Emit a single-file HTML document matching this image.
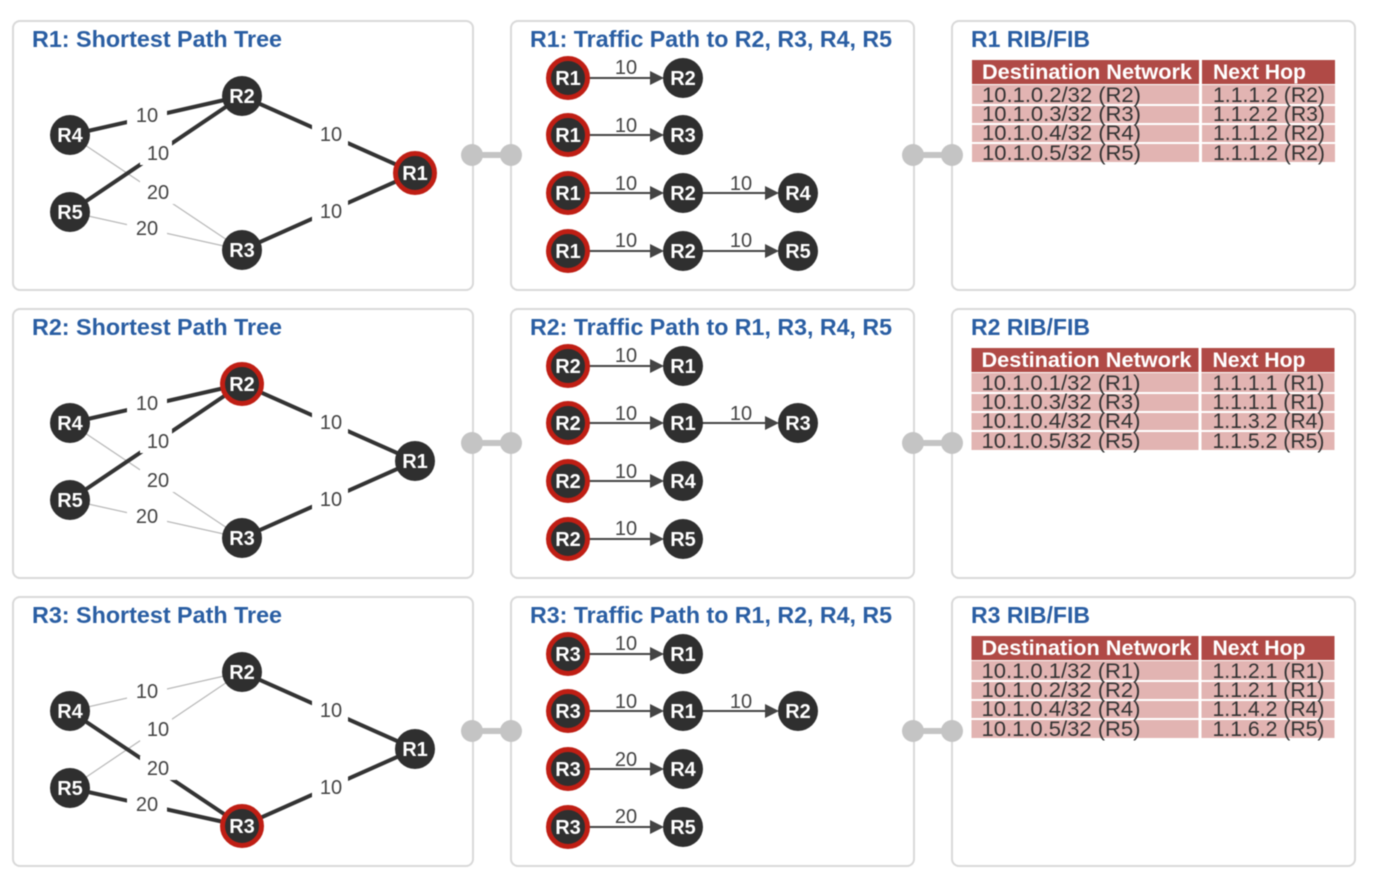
<!DOCTYPE html>
<html><head><meta charset="utf-8"><style>
html,body{margin:0;padding:0;background:#fff;width:1390px;height:888px;overflow:hidden}
svg{display:block;filter:blur(0.6px)}
text{font-family:"Liberation Sans",sans-serif;lengthAdjust:spacingAndGlyphs}
.p{fill:#fff;stroke:#d9d9d9;stroke-width:2}
.t{font-size:23px;font-weight:bold;fill:#2a5ea3}
.n{fill:#2f2f2f}
.s{fill:#2f2f2f;stroke:#bf1e14;stroke-width:5}
.nt{font-size:20px;font-weight:bold;fill:#fff;text-anchor:middle}
.l{font-size:20px;fill:#444;text-anchor:middle}
.a{stroke:#333;stroke-width:4;fill:none}
.b{stroke:#b8b8b8;stroke-width:1.2;fill:none}
.g{stroke:#444;stroke-width:2;fill:none}
.h{fill:#444}
.w{fill:#fff}
.c{fill:#c4c4c4}
.tr{fill:#b04a46}
.tb{fill:#e2b4b2}
.th{font-size:21px;font-weight:bold;fill:#fff}
.td{font-size:21px;fill:#333}
</style></head><body>
<svg width="1390" height="888" viewBox="0 0 1390 888" xmlns="http://www.w3.org/2000/svg">

<!-- ROW 1 -->
<g>
<rect class="p" x="13" y="21" width="460" height="269" rx="7"/>
<rect class="p" x="511" y="21" width="403" height="269" rx="7"/>
<rect class="p" x="952" y="21" width="403" height="269" rx="7"/>
<rect class="c" x="472" y="152" width="39" height="6"/><circle class="c" cx="472" cy="155" r="11"/><circle class="c" cx="511" cy="155" r="11"/>
<rect class="c" x="913" y="152" width="39" height="6"/><circle class="c" cx="913" cy="155" r="11"/><circle class="c" cx="952" cy="155" r="11"/>
<text class="t" x="32" y="47" textLength="250" lengthAdjust="spacingAndGlyphs">R1: Shortest Path Tree</text>
<text class="t" x="530" y="47" textLength="362" lengthAdjust="spacingAndGlyphs">R1: Traffic Path to R2, R3, R4, R5</text>
<text class="t" x="971" y="47" textLength="119" lengthAdjust="spacingAndGlyphs">R1 RIB/FIB</text>

<line class="b" x1="70" y1="135" x2="242" y2="250"/><line class="b" x1="70" y1="212" x2="242" y2="250"/>
<line class="a" x1="70" y1="135" x2="242" y2="96"/><line class="a" x1="70" y1="212" x2="242" y2="96"/>
<line class="a" x1="242" y1="96" x2="415" y2="173"/><line class="a" x1="242" y1="250" x2="415" y2="173"/>
<rect class="w" x="127" y="103" width="40" height="24"/><rect class="w" x="140" y="141" width="32" height="24"/><rect class="w" x="140" y="180" width="36" height="24"/><rect class="w" x="127" y="216" width="40" height="24"/><rect class="w" x="312" y="122" width="36" height="24"/><rect class="w" x="312" y="199" width="36" height="24"/>
<text class="l" x="147" y="122">10</text><text class="l" x="158" y="160">10</text><text class="l" x="158" y="199">20</text><text class="l" x="147" y="235">20</text><text class="l" x="331" y="141">10</text><text class="l" x="331" y="218">10</text>
<circle class="n" cx="70" cy="135" r="20"/><text class="nt" x="70" y="142">R4</text>
<circle class="n" cx="70" cy="212" r="20"/><text class="nt" x="70" y="219">R5</text>
<circle class="n" cx="242" cy="96" r="20"/><text class="nt" x="242" y="103">R2</text>
<circle class="n" cx="242" cy="250" r="20"/><text class="nt" x="242" y="257">R3</text>
<circle class="s" cx="415" cy="173" r="19.5"/><text class="nt" x="415" y="180">R1</text>

<line class="g" x1="568" y1="78" x2="652" y2="78"/><polygon class="h" points="650,71 664,78 650,85"/><text class="l" x="626" y="74">10</text>
<line class="g" x1="568" y1="135" x2="652" y2="135"/><polygon class="h" points="650,128 664,135 650,142"/><text class="l" x="626" y="132">10</text>
<line class="g" x1="568" y1="193" x2="652" y2="193"/><polygon class="h" points="650,186 664,193 650,200"/><text class="l" x="626" y="190">10</text>
<line class="g" x1="683" y1="193" x2="767" y2="193"/><polygon class="h" points="765,186 779,193 765,200"/><text class="l" x="741" y="190">10</text>
<line class="g" x1="568" y1="251" x2="652" y2="251"/><polygon class="h" points="650,244 664,251 650,258"/><text class="l" x="626" y="247">10</text>
<line class="g" x1="683" y1="251" x2="767" y2="251"/><polygon class="h" points="765,244 779,251 765,258"/><text class="l" x="741" y="247">10</text>
<circle class="s" cx="568" cy="78" r="19.5"/><text class="nt" x="568" y="85">R1</text><circle class="n" cx="683" cy="78" r="20"/><text class="nt" x="683" y="85">R2</text>
<circle class="s" cx="568" cy="135" r="19.5"/><text class="nt" x="568" y="142">R1</text><circle class="n" cx="683" cy="135" r="20"/><text class="nt" x="683" y="142">R3</text>
<circle class="s" cx="568" cy="193" r="19.5"/><text class="nt" x="568" y="200">R1</text><circle class="n" cx="683" cy="193" r="20"/><text class="nt" x="683" y="200">R2</text><circle class="n" cx="798" cy="193" r="20"/><text class="nt" x="798" y="200">R4</text>
<circle class="s" cx="568" cy="251" r="19.5"/><text class="nt" x="568" y="258">R1</text><circle class="n" cx="683" cy="251" r="20"/><text class="nt" x="683" y="258">R2</text><circle class="n" cx="798" cy="251" r="20"/><text class="nt" x="798" y="258">R5</text>

<rect class="tr" x="972" y="60" width="227" height="24"/><rect class="tr" x="1202" y="60" width="133" height="24"/>
<rect class="tb" x="972" y="85" width="227" height="19"/><rect class="tb" x="1202" y="85" width="133" height="19"/>
<rect class="tb" x="972" y="106" width="227" height="17"/><rect class="tb" x="1202" y="106" width="133" height="17"/>
<rect class="tb" x="972" y="125" width="227" height="17"/><rect class="tb" x="1202" y="125" width="133" height="17"/>
<rect class="tb" x="972" y="144" width="227" height="18"/><rect class="tb" x="1202" y="144" width="133" height="18"/>
<text class="th" x="982" y="79" textLength="210" lengthAdjust="spacingAndGlyphs">Destination Network</text><text class="th" x="1213" y="79" textLength="93" lengthAdjust="spacingAndGlyphs">Next Hop</text>
<text class="td" x="982" y="102" textLength="159" lengthAdjust="spacingAndGlyphs">10.1.0.2/32 (R2)</text><text class="td" x="1213" y="102" textLength="112" lengthAdjust="spacingAndGlyphs">1.1.1.2 (R2)</text>
<text class="td" x="982" y="121" textLength="159" lengthAdjust="spacingAndGlyphs">10.1.0.3/32 (R3)</text><text class="td" x="1213" y="121" textLength="112" lengthAdjust="spacingAndGlyphs">1.1.2.2 (R3)</text>
<text class="td" x="982" y="140" textLength="159" lengthAdjust="spacingAndGlyphs">10.1.0.4/32 (R4)</text><text class="td" x="1213" y="140" textLength="112" lengthAdjust="spacingAndGlyphs">1.1.1.2 (R2)</text>
<text class="td" x="982" y="160" textLength="159" lengthAdjust="spacingAndGlyphs">10.1.0.5/32 (R5)</text><text class="td" x="1213" y="160" textLength="112" lengthAdjust="spacingAndGlyphs">1.1.1.2 (R2)</text>
</g>

<!-- ROW 2 -->
<g transform="translate(0,288)">
<rect class="p" x="13" y="21" width="460" height="269" rx="7"/>
<rect class="p" x="511" y="21" width="403" height="269" rx="7"/>
<rect class="p" x="952" y="21" width="403" height="269" rx="7"/>
<rect class="c" x="472" y="152" width="39" height="6"/><circle class="c" cx="472" cy="155" r="11"/><circle class="c" cx="511" cy="155" r="11"/>
<rect class="c" x="913" y="152" width="39" height="6"/><circle class="c" cx="913" cy="155" r="11"/><circle class="c" cx="952" cy="155" r="11"/>
<text class="t" x="32" y="47" textLength="250" lengthAdjust="spacingAndGlyphs">R2: Shortest Path Tree</text>
<text class="t" x="530" y="47" textLength="362" lengthAdjust="spacingAndGlyphs">R2: Traffic Path to R1, R3, R4, R5</text>
<text class="t" x="971" y="47" textLength="119" lengthAdjust="spacingAndGlyphs">R2 RIB/FIB</text>

<line class="b" x1="70" y1="135" x2="242" y2="250"/><line class="b" x1="70" y1="212" x2="242" y2="250"/>
<line class="a" x1="70" y1="135" x2="242" y2="96"/><line class="a" x1="70" y1="212" x2="242" y2="96"/>
<line class="a" x1="242" y1="96" x2="415" y2="173"/><line class="a" x1="242" y1="250" x2="415" y2="173"/>
<rect class="w" x="127" y="103" width="40" height="24"/><rect class="w" x="140" y="141" width="32" height="24"/><rect class="w" x="140" y="180" width="36" height="24"/><rect class="w" x="127" y="216" width="40" height="24"/><rect class="w" x="312" y="122" width="36" height="24"/><rect class="w" x="312" y="199" width="36" height="24"/>
<text class="l" x="147" y="122">10</text><text class="l" x="158" y="160">10</text><text class="l" x="158" y="199">20</text><text class="l" x="147" y="235">20</text><text class="l" x="331" y="141">10</text><text class="l" x="331" y="218">10</text>
<circle class="n" cx="70" cy="135" r="20"/><text class="nt" x="70" y="142">R4</text>
<circle class="n" cx="70" cy="212" r="20"/><text class="nt" x="70" y="219">R5</text>
<circle class="s" cx="242" cy="96" r="19.5"/><text class="nt" x="242" y="103">R2</text>
<circle class="n" cx="242" cy="250" r="20"/><text class="nt" x="242" y="257">R3</text>
<circle class="n" cx="415" cy="173" r="20"/><text class="nt" x="415" y="180">R1</text>

<line class="g" x1="568" y1="78" x2="652" y2="78"/><polygon class="h" points="650,71 664,78 650,85"/><text class="l" x="626" y="74">10</text>
<line class="g" x1="568" y1="135" x2="652" y2="135"/><polygon class="h" points="650,128 664,135 650,142"/><text class="l" x="626" y="132">10</text>
<line class="g" x1="683" y1="135" x2="767" y2="135"/><polygon class="h" points="765,128 779,135 765,142"/><text class="l" x="741" y="132">10</text>
<line class="g" x1="568" y1="193" x2="652" y2="193"/><polygon class="h" points="650,186 664,193 650,200"/><text class="l" x="626" y="190">10</text>
<line class="g" x1="568" y1="251" x2="652" y2="251"/><polygon class="h" points="650,244 664,251 650,258"/><text class="l" x="626" y="247">10</text>
<circle class="s" cx="568" cy="78" r="19.5"/><text class="nt" x="568" y="85">R2</text><circle class="n" cx="683" cy="78" r="20"/><text class="nt" x="683" y="85">R1</text>
<circle class="s" cx="568" cy="135" r="19.5"/><text class="nt" x="568" y="142">R2</text><circle class="n" cx="683" cy="135" r="20"/><text class="nt" x="683" y="142">R1</text><circle class="n" cx="798" cy="135" r="20"/><text class="nt" x="798" y="142">R3</text>
<circle class="s" cx="568" cy="193" r="19.5"/><text class="nt" x="568" y="200">R2</text><circle class="n" cx="683" cy="193" r="20"/><text class="nt" x="683" y="200">R4</text>
<circle class="s" cx="568" cy="251" r="19.5"/><text class="nt" x="568" y="258">R2</text><circle class="n" cx="683" cy="251" r="20"/><text class="nt" x="683" y="258">R5</text>

<g transform="translate(-0.5,0)">
<rect class="tr" x="972" y="60" width="227" height="24"/><rect class="tr" x="1202" y="60" width="133" height="24"/>
<rect class="tb" x="972" y="85" width="227" height="19"/><rect class="tb" x="1202" y="85" width="133" height="19"/>
<rect class="tb" x="972" y="106" width="227" height="17"/><rect class="tb" x="1202" y="106" width="133" height="17"/>
<rect class="tb" x="972" y="125" width="227" height="17"/><rect class="tb" x="1202" y="125" width="133" height="17"/>
<rect class="tb" x="972" y="144" width="227" height="18"/><rect class="tb" x="1202" y="144" width="133" height="18"/>
<text class="th" x="982" y="79" textLength="210" lengthAdjust="spacingAndGlyphs">Destination Network</text><text class="th" x="1213" y="79" textLength="93" lengthAdjust="spacingAndGlyphs">Next Hop</text>
<text class="td" x="982" y="102" textLength="159" lengthAdjust="spacingAndGlyphs">10.1.0.1/32 (R1)</text><text class="td" x="1213" y="102" textLength="112" lengthAdjust="spacingAndGlyphs">1.1.1.1 (R1)</text>
<text class="td" x="982" y="121" textLength="159" lengthAdjust="spacingAndGlyphs">10.1.0.3/32 (R3)</text><text class="td" x="1213" y="121" textLength="112" lengthAdjust="spacingAndGlyphs">1.1.1.1 (R1)</text>
<text class="td" x="982" y="140" textLength="159" lengthAdjust="spacingAndGlyphs">10.1.0.4/32 (R4)</text><text class="td" x="1213" y="140" textLength="112" lengthAdjust="spacingAndGlyphs">1.1.3.2 (R4)</text>
<text class="td" x="982" y="160" textLength="159" lengthAdjust="spacingAndGlyphs">10.1.0.5/32 (R5)</text><text class="td" x="1213" y="160" textLength="112" lengthAdjust="spacingAndGlyphs">1.1.5.2 (R5)</text>
</g>
</g>

<!-- ROW 3 -->
<g transform="translate(0,576)">
<rect class="p" x="13" y="21" width="460" height="269" rx="7"/>
<rect class="p" x="511" y="21" width="403" height="269" rx="7"/>
<rect class="p" x="952" y="21" width="403" height="269" rx="7"/>
<rect class="c" x="472" y="152" width="39" height="6"/><circle class="c" cx="472" cy="155" r="11"/><circle class="c" cx="511" cy="155" r="11"/>
<rect class="c" x="913" y="152" width="39" height="6"/><circle class="c" cx="913" cy="155" r="11"/><circle class="c" cx="952" cy="155" r="11"/>
<text class="t" x="32" y="47" textLength="250" lengthAdjust="spacingAndGlyphs">R3: Shortest Path Tree</text>
<text class="t" x="530" y="47" textLength="362" lengthAdjust="spacingAndGlyphs">R3: Traffic Path to R1, R2, R4, R5</text>
<text class="t" x="971" y="47" textLength="119" lengthAdjust="spacingAndGlyphs">R3 RIB/FIB</text>

<line class="b" x1="70" y1="135" x2="242" y2="96"/><line class="b" x1="70" y1="212" x2="242" y2="96"/>
<line class="a" x1="70" y1="135" x2="242" y2="250"/><line class="a" x1="70" y1="212" x2="242" y2="250"/>
<line class="a" x1="242" y1="96" x2="415" y2="173"/><line class="a" x1="242" y1="250" x2="415" y2="173"/>
<rect class="w" x="127" y="103" width="40" height="24"/><rect class="w" x="140" y="141" width="32" height="24"/><rect class="w" x="140" y="180" width="36" height="24"/><rect class="w" x="127" y="216" width="40" height="24"/><rect class="w" x="312" y="122" width="36" height="24"/><rect class="w" x="312" y="199" width="36" height="24"/>
<text class="l" x="147" y="122">10</text><text class="l" x="158" y="160">10</text><text class="l" x="158" y="199">20</text><text class="l" x="147" y="235">20</text><text class="l" x="331" y="141">10</text><text class="l" x="331" y="218">10</text>
<circle class="n" cx="70" cy="135" r="20"/><text class="nt" x="70" y="142">R4</text>
<circle class="n" cx="70" cy="212" r="20"/><text class="nt" x="70" y="219">R5</text>
<circle class="n" cx="242" cy="96" r="20"/><text class="nt" x="242" y="103">R2</text>
<circle class="s" cx="242" cy="250" r="19.5"/><text class="nt" x="242" y="257">R3</text>
<circle class="n" cx="415" cy="173" r="20"/><text class="nt" x="415" y="180">R1</text>

<line class="g" x1="568" y1="78" x2="652" y2="78"/><polygon class="h" points="650,71 664,78 650,85"/><text class="l" x="626" y="74">10</text>
<line class="g" x1="568" y1="135" x2="652" y2="135"/><polygon class="h" points="650,128 664,135 650,142"/><text class="l" x="626" y="132">10</text>
<line class="g" x1="683" y1="135" x2="767" y2="135"/><polygon class="h" points="765,128 779,135 765,142"/><text class="l" x="741" y="132">10</text>
<line class="g" x1="568" y1="193" x2="652" y2="193"/><polygon class="h" points="650,186 664,193 650,200"/><text class="l" x="626" y="190">20</text>
<line class="g" x1="568" y1="251" x2="652" y2="251"/><polygon class="h" points="650,244 664,251 650,258"/><text class="l" x="626" y="247">20</text>
<circle class="s" cx="568" cy="78" r="19.5"/><text class="nt" x="568" y="85">R3</text><circle class="n" cx="683" cy="78" r="20"/><text class="nt" x="683" y="85">R1</text>
<circle class="s" cx="568" cy="135" r="19.5"/><text class="nt" x="568" y="142">R3</text><circle class="n" cx="683" cy="135" r="20"/><text class="nt" x="683" y="142">R1</text><circle class="n" cx="798" cy="135" r="20"/><text class="nt" x="798" y="142">R2</text>
<circle class="s" cx="568" cy="193" r="19.5"/><text class="nt" x="568" y="200">R3</text><circle class="n" cx="683" cy="193" r="20"/><text class="nt" x="683" y="200">R4</text>
<circle class="s" cx="568" cy="251" r="19.5"/><text class="nt" x="568" y="258">R3</text><circle class="n" cx="683" cy="251" r="20"/><text class="nt" x="683" y="258">R5</text>

<g transform="translate(-0.5,0)">
<rect class="tr" x="972" y="60" width="227" height="24"/><rect class="tr" x="1202" y="60" width="133" height="24"/>
<rect class="tb" x="972" y="85" width="227" height="19"/><rect class="tb" x="1202" y="85" width="133" height="19"/>
<rect class="tb" x="972" y="106" width="227" height="17"/><rect class="tb" x="1202" y="106" width="133" height="17"/>
<rect class="tb" x="972" y="125" width="227" height="17"/><rect class="tb" x="1202" y="125" width="133" height="17"/>
<rect class="tb" x="972" y="144" width="227" height="18"/><rect class="tb" x="1202" y="144" width="133" height="18"/>
<text class="th" x="982" y="79" textLength="210" lengthAdjust="spacingAndGlyphs">Destination Network</text><text class="th" x="1213" y="79" textLength="93" lengthAdjust="spacingAndGlyphs">Next Hop</text>
<text class="td" x="982" y="102" textLength="159" lengthAdjust="spacingAndGlyphs">10.1.0.1/32 (R1)</text><text class="td" x="1213" y="102" textLength="112" lengthAdjust="spacingAndGlyphs">1.1.2.1 (R1)</text>
<text class="td" x="982" y="121" textLength="159" lengthAdjust="spacingAndGlyphs">10.1.0.2/32 (R2)</text><text class="td" x="1213" y="121" textLength="112" lengthAdjust="spacingAndGlyphs">1.1.2.1 (R1)</text>
<text class="td" x="982" y="140" textLength="159" lengthAdjust="spacingAndGlyphs">10.1.0.4/32 (R4)</text><text class="td" x="1213" y="140" textLength="112" lengthAdjust="spacingAndGlyphs">1.1.4.2 (R4)</text>
<text class="td" x="982" y="160" textLength="159" lengthAdjust="spacingAndGlyphs">10.1.0.5/32 (R5)</text><text class="td" x="1213" y="160" textLength="112" lengthAdjust="spacingAndGlyphs">1.1.6.2 (R5)</text>
</g>
</g>
</svg>
</body></html>
